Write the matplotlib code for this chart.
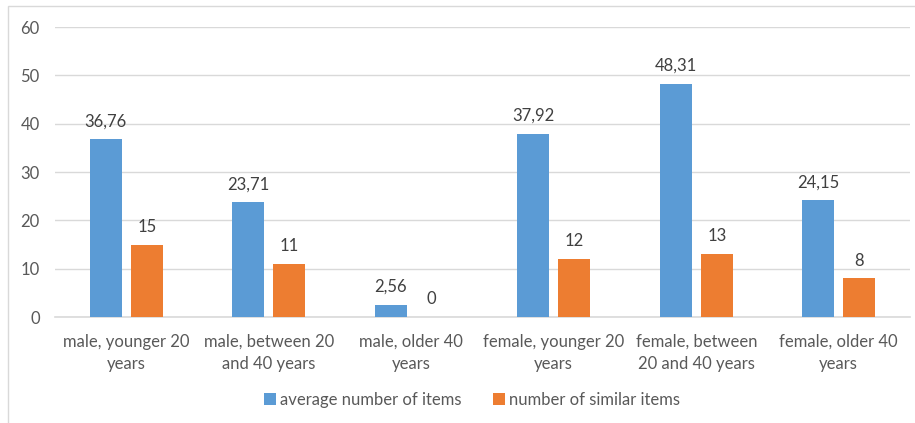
import matplotlib
matplotlib.use("Agg")
import matplotlib.pyplot as plt
import numpy as np
from matplotlib.patches import Rectangle

categories = ["male, younger 20\nyears", "male, between 20\nand 40 years", "male, older 40\nyears",
              "female, younger 20\nyears", "female, between\n20 and 40 years", "female, older 40\nyears"]
avg_items = [36.76, 23.71, 2.56, 37.92, 48.31, 24.15]
similar_items = [15, 11, 0, 12, 13, 8]
series_names = ["average number of items", "number of similar items"]
yticks = [0, 10, 20, 30, 40, 50, 60]

blue = "#5B9BD5"
orange = "#ED7D31"
txt = "#595959"
plt.rcParams['font.family'] = ['Lato', 'DejaVu Sans']

fig = plt.figure(figsize=(9.15, 4.23), dpi=100)
ax = fig.add_axes([55/915, 1-317/423, 855/915, 290/423])

x = np.arange(len(categories))
w = 0.225
gap = 0.063
off = (w + gap) / 2
b1 = ax.bar(x - off, avg_items, w, color=blue, label=series_names[0], zorder=3)
b2 = ax.bar(x + off, similar_items, w, color=orange, label=series_names[1], zorder=3)

fmt = lambda v: (f"{v:.2f}".replace(".", ",") if v != int(v) else str(int(v)))
for bars, vals in ((b1, avg_items), (b2, similar_items)):
    for r, v in zip(bars, vals):
        ax.annotate(fmt(v), (r.get_x() + r.get_width()/2, v), xytext=(0, 7),
                    textcoords="offset points", ha="center", va="bottom",
                    fontsize=12, color="#404040")

ax.set_xlim(-0.5, len(categories) - 0.5)
ax.set_ylim(0, 60)
ax.set_yticks(yticks)
ax.set_yticklabels([str(t) for t in yticks])
ax.set_xticks(x)
ax.set_xticklabels(categories, linespacing=1.45)
ax.tick_params(axis="both", length=0, labelsize=12, labelcolor=txt)
ax.tick_params(axis="y", pad=11)
ax.tick_params(axis="x", pad=12)
ax.grid(axis="y", color="#D9D9D9", linewidth=1, zorder=0)
for s in ["top", "right", "left"]:
    ax.spines[s].set_visible(False)
ax.spines["bottom"].set_color("#D9D9D9")
ax.spines["bottom"].set_linewidth(1.2)

fig.legend(handles=[b1, b2], labels=series_names, loc="center", bbox_to_anchor=(472/915, 1-400/423),
           ncol=2, frameon=False, fontsize=12, labelcolor=txt, handlelength=0.7, handleheight=0.7,
           handletextpad=0.25, columnspacing=1.9)

fig.patches.append(Rectangle((8/915, -0.1), 1.2, (1-6/423) + 0.1, transform=fig.transFigure,
                             fill=False, edgecolor="#D9D9D9", linewidth=1))

fig.savefig("out.png", dpi=100)
